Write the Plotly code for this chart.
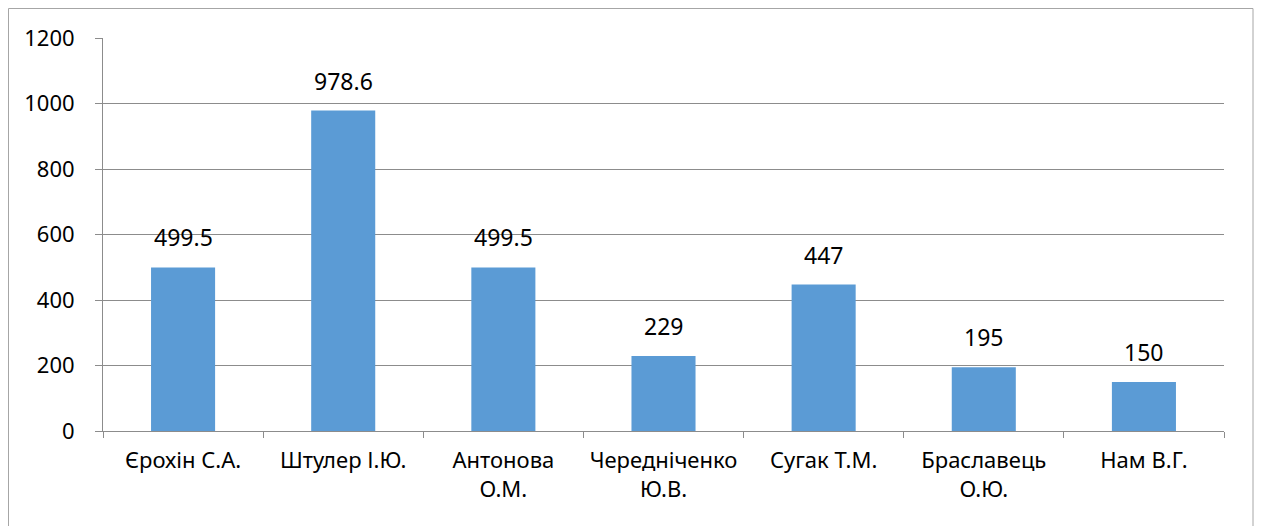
import plotly.graph_objects as go

categories = ["Єрохін С.А.", "Штулер І.Ю.", "Антонова<br>О.М.", "Чередніченко<br>Ю.В.",
              "Сугак Т.М.", "Браславець<br>О.Ю.", "Нам В.Г."]
values = [499.5, 978.6, 499.5, 229, 447, 195, 150]
labels = ["499.5", "978.6", "499.5", "229", "447", "195", "150"]
y_ticks = [0, 200, 400, 600, 800, 1000, 1200]

OFF = 8  # default page body margin
W, H = 1262 - OFF, 526 - OFF
L, T = 103 - OFF, 38 - OFF
R = W - (1224 - OFF)
B = H - (431 - OFF)
pw, ph = W - L - R, H - T - B

def px(x):
    return (x - L) / pw

def py(y):
    return (H - B - y) / ph

font = "Noto Sans, Open Sans, sans-serif"
grid = "#8C8C8C"

fig = go.Figure(go.Bar(
    x=categories, y=values,
    marker=dict(color="#5B9BD5", line=dict(width=0)),
    width=0.4,
))

annotations = [dict(x=c, y=v, text=t, xref="x", yref="y", showarrow=False,
                    yanchor="bottom", yshift=12,
                    font=dict(size=23, color="#000000", family=font))
               for c, v, t in zip(categories, values, labels)]

fig.update_layout(
    width=W, height=H,
    margin=dict(l=L, r=R, t=T, b=B, autoexpand=False),
    paper_bgcolor="white", plot_bgcolor="white",
    showlegend=False,
    font=dict(family=font, size=22, color="#000000"),
    xaxis=dict(
        showline=True, linecolor=grid, linewidth=1,
        ticks="outside", tickson="boundaries", ticklen=6, tickcolor=grid,
        showgrid=False, tickfont=dict(size=22, family=font, color="#000000"),
        ticklabelstandoff=10, tickangle=0, automargin=False,
    ),
    yaxis=dict(
        range=[0, 1200], tickvals=y_ticks,
        showline=True, linecolor=grid, linewidth=1,
        ticks="outside", ticklen=7, tickcolor=grid,
        showgrid=True, gridcolor=grid, gridwidth=1,
        zeroline=False, tickfont=dict(size=22, family=font, color="#000000"),
        ticklabelstandoff=16, automargin=False,
    ),
    annotations=annotations,
    shapes=[dict(type="rect", xref="paper", yref="paper",
                 x0=px(0.5), x1=px(1245), y0=py(H + 20), y1=py(0.5),
                 line=dict(color="#A6A6A6", width=1), layer="below")],
)

fig.write_html("out.html")
